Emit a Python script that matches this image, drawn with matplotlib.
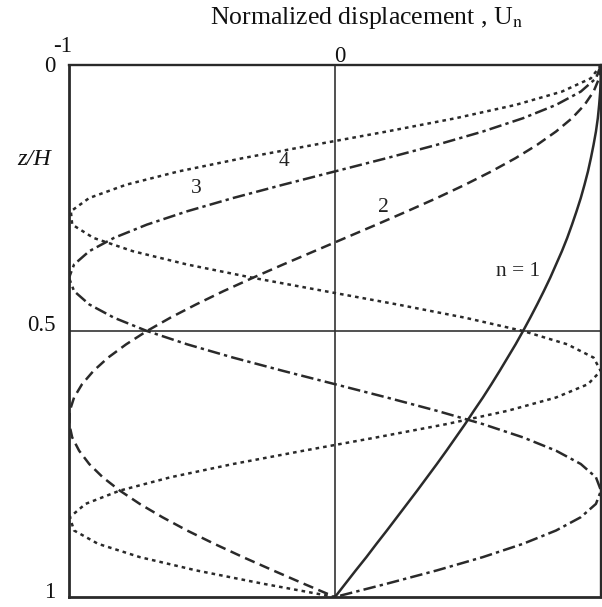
import matplotlib
matplotlib.use("Agg")
import matplotlib.pyplot as plt
from matplotlib.transforms import blended_transform_factory, offset_copy

# Depth ratio z/H, sampled every 0.025
z = [i / 40 for i in range(41)]

# Normalized mode-shape displacement U_n for the first four modes
u1 = [1.000, 0.999, 0.997, 0.993, 0.988, 0.981, 0.972, 0.962, 0.951, 0.938,
      0.924, 0.908, 0.891, 0.873, 0.853, 0.831, 0.809, 0.785, 0.760, 0.734,
      0.707, 0.679, 0.649, 0.619, 0.588, 0.556, 0.522, 0.489, 0.454, 0.419,
      0.383, 0.346, 0.309, 0.271, 0.233, 0.195, 0.156, 0.118, 0.078, 0.039,
      0.000]
u2 = [1.000, 0.993, 0.972, 0.938, 0.891, 0.831, 0.760, 0.679, 0.588, 0.489,
      0.383, 0.271, 0.156, 0.039, -0.078, -0.195, -0.309, -0.419, -0.522, -0.619,
      -0.707, -0.785, -0.853, -0.908, -0.951, -0.981, -0.997, -0.999, -0.988, -0.962,
      -0.924, -0.873, -0.809, -0.734, -0.649, -0.556, -0.454, -0.346, -0.233, -0.118,
      0.000]
u3 = [1.000, 0.981, 0.924, 0.831, 0.707, 0.556, 0.383, 0.195, 0.000, -0.195,
      -0.383, -0.556, -0.707, -0.831, -0.924, -0.981, -1.000, -0.981, -0.924, -0.831,
      -0.707, -0.556, -0.383, -0.195, 0.000, 0.195, 0.383, 0.556, 0.707, 0.831,
      0.924, 0.981, 1.000, 0.981, 0.924, 0.831, 0.707, 0.556, 0.383, 0.195,
      0.000]
u4 = [1.000, 0.962, 0.853, 0.679, 0.454, 0.195, -0.078, -0.346, -0.588, -0.785,
      -0.924, -0.993, -0.988, -0.908, -0.760, -0.556, -0.309, -0.039, 0.233, 0.489,
      0.707, 0.873, 0.972, 0.999, 0.951, 0.831, 0.649, 0.419, 0.156, -0.118,
      -0.383, -0.619, -0.809, -0.938, -0.997, -0.981, -0.891, -0.734, -0.522, -0.271,
      0.000]

curve_labels = ["n = 1", "2", "3", "4"]
x_tick_labels = ["-1", "0"]
y_ticks = [0, 0.5, 1]
y_tick_labels = ["0", "0.5", "1"]

plt.rcParams["font.family"] = ["Liberation Serif", "DejaVu Serif"]
plt.rcParams["mathtext.fontset"] = "stix"
plt.rcParams["lines.scale_dashes"] = False

W, H = 602, 607
fig = plt.figure(figsize=(W / 100, H / 100), dpi=100)


def fpos(x, y):
    """Pixel position (from top-left) to figure fraction."""
    return x / W, 1 - y / H


left, right, top, bottom = 69, 601, 65, 597
ax = fig.add_axes([left / W, 1 - bottom / H, (right - left) / W, (bottom - top) / H])
ax.set_xlim(-1, 1)
ax.set_ylim(1, 0)

ink = "#2a2a2a"
for side, lw in (("left", 2.0), ("top", 1.7), ("bottom", 2.0), ("right", 1.7)):
    ax.spines[side].set_linewidth(lw)
    ax.spines[side].set_color(ink)

# Reference lines at U = 0 and z/H = 0.5
ax.axvline(0, color="#333333", lw=1.2, zorder=1)
ax.axhline(0.5, color="#333333", lw=1.2, zorder=1)

lw = 1.8
ax.plot(u1, z, color=ink, lw=lw, solid_capstyle="round")
ax.plot(u2, z, color=ink, lw=lw, linestyle=(0, (7.5, 4.0)))
ax.plot(u3, z, color=ink, lw=lw, linestyle=(0, (9.0, 3.0, 2.4, 3.0)))
ax.plot(u4, z, color=ink, lw=lw, linestyle=(0, (2.6, 2.9)))

# Curve labels
lab_kw = dict(fontsize=15.5, color="#222222", ha="center", va="center")
ax.text(0.69, 0.388, curve_labels[0], **lab_kw)
ax.text(0.18, 0.268, curve_labels[1], **lab_kw)
ax.text(-0.52, 0.232, curve_labels[2], **lab_kw)
ax.text(-0.19, 0.182, curve_labels[3], **lab_kw)

# Axis ticks and labels
ax.set_xticks([])
ax.set_yticks([])
ytrans = blended_transform_factory(ax.transAxes, ax.transData)
y_shift = [-1, 4, 3]  # points, small nudges of each depth label
for val, lab, dy in zip(y_ticks, y_tick_labels, y_shift):
    ax.text(-0.025, val, lab, fontsize=16.5, color="#111111", ha="right", va="center",
            transform=offset_copy(ytrans, fig=fig, x=0, y=dy, units="points"),
            clip_on=False)

fig.text(*fpos(63, 47), x_tick_labels[0], fontsize=16.5, ha="center", va="center", color="#111111")
fig.text(*fpos(340, 56), x_tick_labels[1], fontsize=16.5, ha="center", va="center", color="#111111")
fig.text(*fpos(366, 18), r"Normalized displacement , U$_{\mathrm{n}}$", fontsize=18.5,
         ha="center", va="center", color="#111111")
fig.text(*fpos(34, 160), "z/H", fontsize=17.5, style="italic", ha="center", va="center",
         color="#111111")

fig.savefig("out.png", dpi=100)
